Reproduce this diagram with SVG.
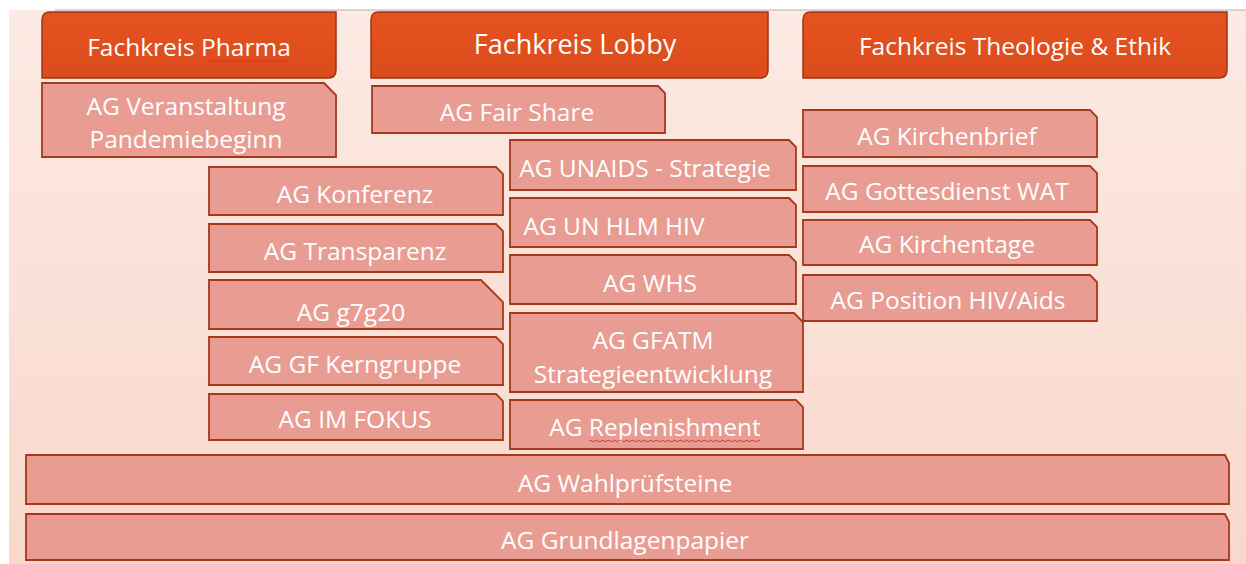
<svg xmlns="http://www.w3.org/2000/svg" width="1246" height="564" viewBox="0 0 1246 564">
<defs>
<linearGradient id="bg" x1="0" y1="0" x2="0" y2="1">
<stop offset="0" stop-color="#FCEAE4"/>
<stop offset="1" stop-color="#F9D8CB"/>
</linearGradient>
<linearGradient id="hd" x1="0" y1="0" x2="0" y2="1">
<stop offset="0" stop-color="#E4531F"/>
<stop offset="1" stop-color="#DC4B1C"/>
</linearGradient>
</defs>
<style>
.hdr{fill:url(#hd);stroke:#9E3513;stroke-width:1.5}
.box{fill:#E99C92;stroke:#A5391B;stroke-width:1.8}
.t{font-family:"Open Sans",Lato,"Liberation Sans",sans-serif;fill:#FFFFFF;font-size:24.5px;text-anchor:middle}
.h{font-size:24.5px}
.sq{fill:none;stroke:#E03030;stroke-width:1}
</style>
<rect x="0" y="0" width="1246" height="564" fill="#FFFFFF"/>
<rect x="9" y="10" width="1237" height="554" fill="url(#bg)"/>
<line x1="55" y1="10" x2="1246" y2="10" stroke="#B8B0AE" stroke-width="1"/>

<g id="fk-pharma">
<path class="hdr" d="M50,12 H336 V70 Q336,78 328,78 H42 V20 Q42,12 50,12 Z"/>
<text class="t h" x="189" y="56">Fachkreis Pharma</text>
<path class="sq" d="M207,61 q1.5,-1.5 3,0 t3,0 t3,0 t3,0 t3,0 t3,0 t3,0 t3,0 t3,0 t3,0 t3,0 t3,0 t3,0 t3,0 t3,0 t3,0 t3,0 t3,0 t3,0 t3,0 t3,0 t3,0 t3,0 t3,0 t3,0 t3,0 t3,0"/>
</g>
<g id="fk-lobby">
<path class="hdr" d="M379,12 H768 V70 Q768,78 760,78 H371 V20 Q371,12 379,12 Z"/>
<text class="t" x="575" y="54" style="font-size:27px">Fachkreis Lobby</text>
</g>
<g id="fk-theo">
<path class="hdr" d="M811,12 H1227 V70 Q1227,78 1219,78 H803 V20 Q803,12 811,12 Z"/>
<text class="t h" x="1015" y="55">Fachkreis Theologie &amp; Ethik</text>
</g>

<g id="ag-veranstaltung">
<path class="box" d="M42,83 H324 L336,95 V157 H42 Z"/>
<text class="t" x="186" y="115">AG Veranstaltung</text>
<text class="t" x="186" y="148">Pandemiebeginn</text>
</g>
<g id="ag-fairshare">
<path class="box" d="M372,86 H658 L665,93 V133 H372 Z"/>
<text class="t" x="517" y="121">AG Fair Share</text>
</g>
<g id="ag-unaids">
<path class="box" d="M510,140 H789 L796,147 V190 H510 Z"/>
<text class="t" x="645" y="177">AG UNAIDS - Strategie</text>
</g>
<g id="ag-unhlm">
<path class="box" d="M510,198 H789 L796,205 V247 H510 Z"/>
<text class="t" x="614" y="235">AG UN HLM HIV</text>
</g>
<g id="ag-whs">
<path class="box" d="M510,255 H789 L796,262 V304 H510 Z"/>
<text class="t" x="650" y="292">AG WHS</text>
</g>
<g id="ag-gfatm">
<path class="box" d="M510,313 H794 L803,322 V392 H510 Z"/>
<text class="t" x="653" y="349">AG GFATM</text>
<text class="t" x="653" y="383">Strategieentwicklung</text>
</g>
<g id="ag-replenishment">
<path class="box" d="M510,400 H796 L803,407 V449 H510 Z"/>
<text class="t" x="655" y="436">AG Replenishment</text>
<path class="sq" d="M589,441 q1.5,-1.5 3,0 t3,0 t3,0 t3,0 t3,0 t3,0 t3,0 t3,0 t3,0 t3,0 t3,0 t3,0 t3,0 t3,0 t3,0 t3,0 t3,0 t3,0 t3,0 t3,0 t3,0 t3,0 t3,0 t3,0 t3,0 t3,0 t3,0 t3,0 t3,0 t3,0 t3,0 t3,0 t3,0 t3,0 t3,0 t3,0 t3,0 t3,0 t3,0 t3,0 t3,0 t3,0 t3,0 t3,0 t3,0 t3,0 t3,0 t3,0 t3,0 t3,0 t3,0 t3,0 t3,0 t3,0 t3,0 t3,0 t3,0"/>
</g>
<g id="ag-konferenz">
<path class="box" d="M209,167 H496 L503,174 V215 H209 Z"/>
<text class="t" x="355" y="203">AG Konferenz</text>
</g>
<g id="ag-transparenz">
<path class="box" d="M209,224 H496 L503,231 V272 H209 Z"/>
<text class="t" x="355" y="260">AG Transparenz</text>
</g>
<g id="ag-g7g20">
<path class="box" d="M209,280 H481 L503,302 V329 H209 Z"/>
<text class="t" x="351" y="321">AG g7g20</text>
</g>
<g id="ag-gfkern">
<path class="box" d="M209,337 H496 L503,344 V385 H209 Z"/>
<text class="t" x="355" y="373">AG GF Kerngruppe</text>
</g>
<g id="ag-imfokus">
<path class="box" d="M209,394 H496 L503,401 V440 H209 Z"/>
<text class="t" x="355" y="428">AG IM FOKUS</text>
</g>
<g id="ag-kirchenbrief">
<path class="box" d="M803,110 H1090 L1097,117 V157 H803 Z"/>
<text class="t" x="947" y="145">AG Kirchenbrief</text>
</g>
<g id="ag-gottesdienst">
<path class="box" d="M803,166 H1090 L1097,173 V212 H803 Z"/>
<text class="t" x="947" y="200">AG Gottesdienst WAT</text>
</g>
<g id="ag-kirchentage">
<path class="box" d="M803,220 H1090 L1097,227 V265 H803 Z"/>
<text class="t" x="947" y="253">AG Kirchentage</text>
</g>
<g id="ag-position">
<path class="box" d="M803,275 H1090 L1097,282 V321 H803 Z"/>
<text class="t" x="948" y="309">AG Position HIV/Aids</text>
</g>
<g id="ag-wahl">
<path class="box" d="M26,455 H1225 L1229,463 V504 H26 Z"/>
<text class="t" x="625" y="492">AG Wahlprüfsteine</text>
</g>
<g id="ag-grund">
<path class="box" d="M26,514 H1225 L1229,522 V560 H26 Z"/>
<text class="t" x="625" y="549">AG Grundlagenpapier</text>
</g>
<g id="connectors"></g>
</svg>
